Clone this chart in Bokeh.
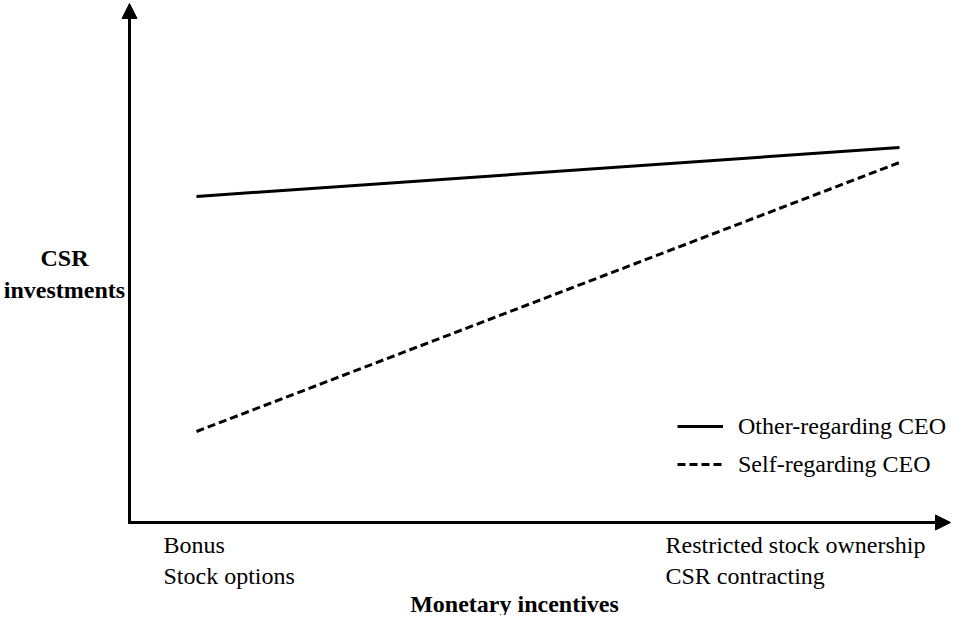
from bokeh.plotting import figure
from bokeh.models import (Range1d, Arrow, NormalHead, Label, Legend, LegendItem)
from bokeh.embed import file_html
from bokeh.resources import INLINE

# ---- data ----
incentive_levels = [0.087, 1.0]           # low incentives -> high incentives
other_regarding = [0.652, 0.750]          # CSR investments, other-regarding CEO
self_regarding = [0.182, 0.720]           # CSR investments, self-regarding CEO
series_names = ["Other-regarding CEO", "Self-regarding CEO"]
low_labels = ["Bonus", "Stock options"]
high_labels = ["Restricted stock ownership", "CSR contracting"]
y_title = ["CSR", "investments"]
x_title = "Monetary incentives"

FONT = "Liberation Serif"
FS = "24px"

W, H = 952, 615
# mapping helpers (reference pixel -> data), used only for annotation placement
OX, OY, SX, SY = 129.0, 522.0, 770.0, 500.0
def X(px):
    return (px - OX) / SX
def Y(py):
    return (OY - py) / SY

p = figure(width=W, height=H, output_backend="svg", toolbar_location=None,
           x_axis_type=None, y_axis_type=None, min_border=0,
           x_range=Range1d(X(0), X(W)), y_range=Range1d(Y(H), Y(0)))
p.outline_line_color = None
p.background_fill_color = "white"
p.border_fill_color = "white"

# axes with arrow heads
p.add_layout(Arrow(end=NormalHead(size=15, fill_color="black", line_color="black"),
                   x_start=0, y_start=Y(OY + 1.5), x_end=0, y_end=Y(3),
                   line_width=3, line_color="black"))
p.add_layout(Arrow(end=NormalHead(size=15, fill_color="black", line_color="black"),
                   x_start=X(OX - 1.5), y_start=0, x_end=X(950), y_end=0,
                   line_width=3, line_color="black"))

r1 = p.line(incentive_levels, other_regarding, line_width=3, line_color="black")
r2 = p.line(incentive_levels, self_regarding, line_width=3, line_color="black",
            line_dash="8 4")

legend = Legend(items=[LegendItem(label=series_names[0], renderers=[r1]),
                       LegendItem(label=series_names[1], renderers=[r2])],
                location=(677, 136), orientation="vertical",
                label_text_font=FONT, label_text_font_size=FS,
                label_text_color="black",
                glyph_width=46, glyph_height=30, label_height=30,
                spacing=8, label_standoff=15, padding=0, margin=0,
                border_line_color=None, background_fill_alpha=0)
p.add_layout(legend)

def lab(text, px, py, align="left", bold=False):
    p.add_layout(Label(x=X(px), y=Y(py), text=text, text_font=FONT,
                       text_font_size=FS, text_color="black",
                       text_align=align, text_baseline="alphabetic",
                       text_font_style="bold" if bold else "normal"))

lab(y_title[0], 64, 257, "center", True)
lab(y_title[1], 64, 289, "center", True)
lab(low_labels[0], 163, 544)
lab(low_labels[1], 163, 575)
lab(high_labels[0], 665, 544)
lab(high_labels[1], 665, 575)
lab(x_title, 514, 603, "center", True)

open("out.html", "w").write(file_html(p, INLINE))
